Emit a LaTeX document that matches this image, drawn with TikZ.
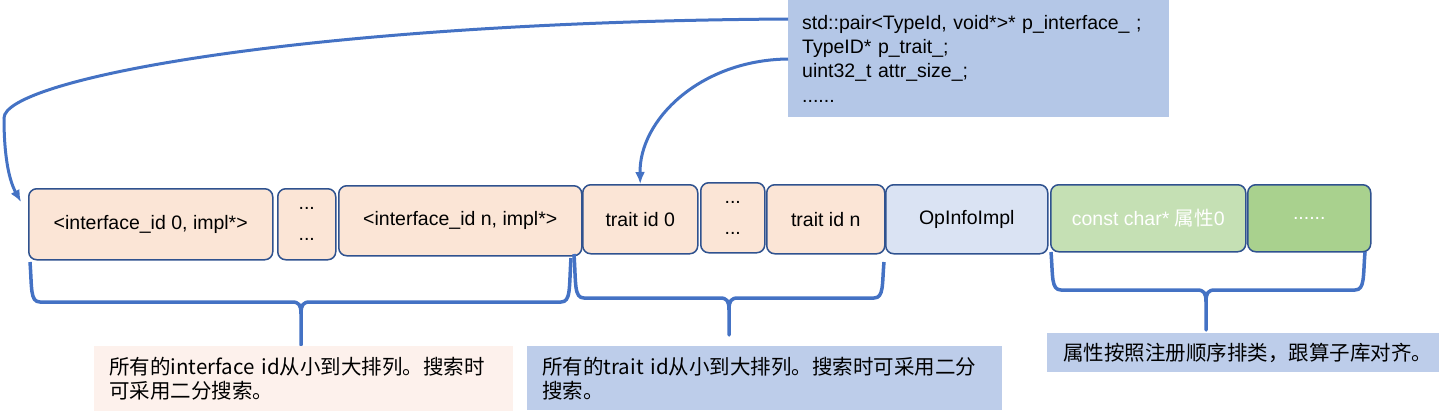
\documentclass[tikz,border=0pt]{standalone}
\usepackage{fontspec}
\setmainfont{Liberation Sans}
\newfontfamily\cjk{Noto Sans CJK SC}
\usetikzlibrary{arrows.meta,calc}
\definecolor{bdr}{HTML}{2F528F}
\definecolor{pinkf}{HTML}{FBE5D6}
\definecolor{bluef}{HTML}{DAE3F3}
\definecolor{greena}{HTML}{C5E0B4}
\definecolor{greenb}{HTML}{A9D18E}
\definecolor{topf}{HTML}{B4C7E7}
\definecolor{labpink}{HTML}{FDF1EC}
\definecolor{labblue}{HTML}{BDCDEA}
\definecolor{arr}{HTML}{4472C4}
\tikzset{
  cell/.style={draw=bdr, line width=1.5pt, rounded corners=8pt, fill=pinkf,
    anchor=north west, inner sep=0pt, align=center, font=\fontsize{19.5}{22}\selectfont},
  note/.style={anchor=north west, inner ysep=0pt, align=left, font=\fontsize{20.5}{24}\selectfont\cjk},
  brace/.style={draw=arr, line width=3.5pt, line join=round},
  link/.style={draw=arr, line width=3pt, -{Latex[length=12pt,width=10pt]}}
}
\newcommand{\mybrace}[7]{% x1, ytopL, ytopR, x2, ybot, xm, ytip
  \draw[brace] (#1,#2) .. controls (#1+2,#5-14) and (#1,#5) .. (#1+10,#5)
    -- (#6-9,#5) .. controls (#6-2,#5) and (#6,#5+3) .. (#6,#5+12) -- (#6,#7)
    -- (#6,#5+12) .. controls (#6,#5+3) and (#6+2,#5) .. (#6+9,#5)
    -- (#4-10,#5) .. controls (#4,#5) and (#4-2,#5-14) .. (#4,#3);}
\begin{document}
\begin{tikzpicture}[x=1pt,y=-1pt]
\useasboundingbox (0,0) rectangle (1454,418);
% top info box
\node[anchor=north west, fill=topf, minimum width=381pt, minimum height=117pt, inner xsep=14pt,
  text width=353pt, align=left, font=\fontsize{19.5}{24.3}\selectfont] (top) at (788,0)
  {std::pair<TypeId, void*>* p\_interface\_ ;\\TypeID* p\_trait\_;\\uint32\_t attr\_size\_;\\......};
% cells
\node[cell, minimum width=244pt, minimum height=71pt] (b1) at (28,188) {<interface\_id 0, impl*>};
\node[cell, minimum width=58pt, minimum height=71pt, font=\fontsize{19.5}{31}\selectfont] (b2) at (277,188) {...\\...};
\node[cell, minimum width=243pt, minimum height=70pt] (b3) at (338,185) {<interface\_id n, impl*>};
\node[cell, minimum width=115pt, minimum height=69pt] (b4) at (582,184) {trait id 0};
\node[cell, minimum width=64pt, minimum height=70pt, font=\fontsize{19.5}{31}\selectfont] (b5) at (700,182) {...\\...};
\node[cell, minimum width=118pt, minimum height=69pt] (b6) at (766,184) {trait id n};
\node[cell, fill=bluef, minimum width=162pt, minimum height=69pt] (b7) at (885,184) {OpInfoImpl};
\node[cell, fill=greena, text=white, minimum width=195pt, minimum height=67pt] (b8) at (1050,184) {const char* {\cjk 属性}0};
\node[cell, fill=greenb, text=white, minimum width=123pt, minimum height=67pt] (b9) at (1247,184) {......};
% braces
\mybrace{30}{262}{258}{571}{302}{301}{345}
\mybrace{574}{254}{262}{884}{298}{729}{335}
\mybrace{1051}{252}{252}{1365}{290}{1206}{330}
% notes
\node[note, fill=labpink, minimum width=419pt, minimum height=65pt, inner xsep=15pt, text width=389pt] (n1) at (94,346)
  {所有的interface id从小到大排列。搜索时\\可采用二分搜索。};
\node[note, fill=labblue, minimum width=475pt, minimum height=64pt, inner xsep=15pt, text width=445pt] (n2) at (527,346)
  {所有的trait id从小到大排列。搜索时可采用二分\\搜索。};
\node[note, fill=labblue, minimum width=392pt, minimum height=39pt, inner xsep=16pt, text width=360pt] (n3) at (1047,333)
  {属性按照注册顺序排类，跟算子库对齐。};
% arrows
\draw[link] ($(top.north west)+(0,19)$) .. controls (300,22) and (4,80) .. (4,118)
  .. controls (4,160) and (10,182) .. ($(b1.north west)+(-7,14)$);
\draw[link] ($(top.north west)+(0,59)$) .. controls (700,60) and (639,120) .. (b4.north);
\end{tikzpicture}
\end{document}
